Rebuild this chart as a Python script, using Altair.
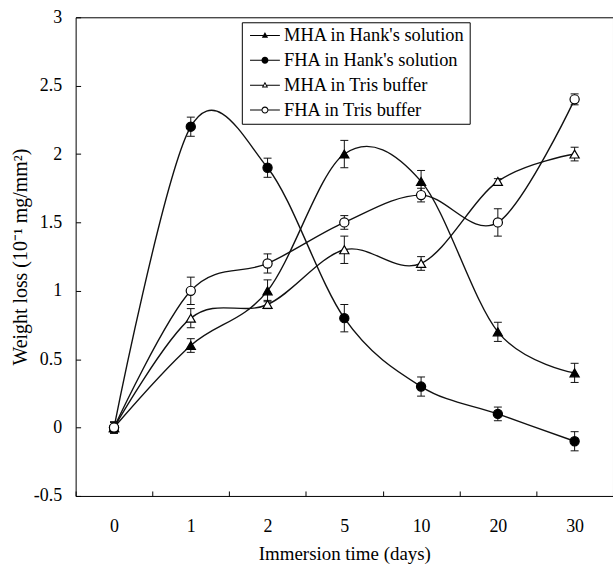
import json
import altair as alt
import pandas as pd

# Immersion times (days) shown as evenly spaced categories
days = ["0", "1", "2", "5", "10", "20", "30"]

series_names = [
    "MHA in Hank's solution",
    "FHA in Hank's solution",
    "MHA in Tris buffer",
    "FHA in Tris buffer",
]

# Weight loss (10^-1 mg/mm^2) and standard deviations
mha_hank = [0.0, 0.6, 1.0, 2.0, 1.8, 0.7, 0.4]
mha_hank_err = [0.04, 0.05, 0.08, 0.1, 0.08, 0.07, 0.07]

fha_hank = [0.0, 2.2, 1.9, 0.8, 0.3, 0.1, -0.1]
fha_hank_err = [0.04, 0.07, 0.07, 0.1, 0.07, 0.05, 0.07]

mha_tris = [0.0, 0.8, 0.9, 1.3, 1.2, 1.8, 2.0]
mha_tris_err = [0.04, 0.07, 0.03, 0.1, 0.05, 0.02, 0.05]

fha_tris = [0.0, 1.0, 1.2, 1.5, 1.7, 1.5, 2.4]
fha_tris_err = [0.04, 0.1, 0.07, 0.05, 0.05, 0.1, 0.04]

values = [mha_hank, fha_hank, mha_tris, fha_tris]
errors = [mha_hank_err, fha_hank_err, mha_tris_err, fha_tris_err]

rows = []
for name, vals, errs in zip(series_names, values, errors):
    for i, (d, v, e) in enumerate(zip(days, vals, errs)):
        rows.append({"series": name, "idx": i, "day": d, "value": v,
                     "lo": v - e, "hi": v + e})
df = pd.DataFrame(rows)

FONT = "Liberation Serif"
W, H = 540, 481
n = len(days)
half_band = W / n / 2

marker_shapes = ["triangle-up", "circle", "triangle-up", "circle"]
marker_fills = ["black", "black", "white", "white"]


def key_line(gap):
    # two thin filled bars either side of the marker
    return (f"M-2,-0.07H-{gap}V0.07H-2Z"
            f"M{gap},-0.07H2V0.07H{gap}Z")


TRI = "M0,-0.45L0.42,0.3L-0.42,0.3Z"
TRI_HOLE = "M0,-0.183L-0.197,0.17L0.197,0.17Z"
CIRC = "M0.47,0A0.47,0.47 0 1,1 -0.47,0A0.47,0.47 0 1,1 0.47,0Z"
CIRC_HOLE = "M0.33,0A0.33,0.33 0 1,0 -0.33,0A0.33,0.33 0 1,0 0.33,0Z"

# legend glyphs: short line with the marker in the middle (open ones drawn as rings)
legend_paths = [
    key_line(0.25) + TRI,
    key_line(0.45) + CIRC,
    key_line(0.25) + TRI + TRI_HOLE,
    key_line(0.45) + CIRC + CIRC_HOLE,
]

label_lookup = json.dumps(days)
x_axis = alt.Axis(
    values=[i - 0.5 for i in range(n + 1)],
    labelExpr=f"datum.value < {n - 1} ? {label_lookup}[round(datum.value + 0.5)] : ''",
    labelOffset=half_band,
    labelFlush=False,
    labelOverlap=False,
    ticks=False,
    tickSize=0,
    domain=False,
    grid=True,
    gridColor="black",
    gridOpacity=1,
    gridDash=[0, H - 5, 5, 3000],
    labelPadding=22,
    title="Immersion time (days)",
    titlePadding=9,
)
x_enc = alt.X("idx:Q", scale=alt.Scale(domain=[-0.5, n - 0.5], nice=False, zero=False),
              axis=x_axis)

y_axis = alt.Axis(
    values=[-0.5, 0, 0.5, 1, 1.5, 2, 2.5, 3],
    labelExpr="'' + datum.value",
    ticks=False,
    tickSize=0,
    domain=False,
    grid=True,
    gridColor="black",
    gridOpacity=1,
    gridDash=[5, 3000],
    labelPadding=14,
    title="Weight loss (10⁻¹ mg/mm²)",
    titleFontSize=20,
    titlePadding=3,
)
y_enc = alt.Y("value:Q", scale=alt.Scale(domain=[-0.5, 3], nice=False, zero=False),
              axis=y_axis)

base = alt.Chart(df)

lines = base.mark_line(interpolate="cardinal", color="#111111", strokeWidth=1.4).encode(
    x=x_enc, y=y_enc, detail="series:N"
)

bars = base.mark_rule(color="#111111", strokeWidth=1).encode(
    x="idx:Q", y="lo:Q", y2="hi:Q"
)
caps_lo = base.mark_tick(orient="horizontal", size=8, thickness=1, color="#111111",
                         opacity=1).encode(x="idx:Q", y="lo:Q")
caps_hi = base.mark_tick(orient="horizontal", size=8, thickness=1, color="#111111",
                         opacity=1).encode(x="idx:Q", y="hi:Q")

points = base.mark_point(filled=True, size=85, stroke="black", strokeWidth=1.2,
                         opacity=1).encode(
    x="idx:Q",
    y="value:Q",
    shape=alt.Shape("series:N", scale=alt.Scale(domain=series_names, range=marker_shapes),
                    legend=None),
    fill=alt.Fill("series:N", scale=alt.Scale(domain=series_names, range=marker_fills),
                  legend=None),
)

legend_def = alt.Legend(
    title=None,
    orient="none",
    legendX=167,
    legendY=5,
    padding=4,
    strokeColor="black",
    fillColor="white",
    symbolSize=225,
    symbolFillColor="black",
    symbolStrokeWidth=0,
    symbolOpacity=1,
    symbolOffset=10,
    labelOffset=10,
    rowPadding=6,
    labelFont=FONT,
    labelFontSize=18.5,
    labelColor="black",
    labelLimit=400,
)

# key entries only; no marks are drawn by this layer
key = base.transform_filter("datum.idx < -10").mark_point(
    filled=True, size=225, color="black", strokeWidth=0, opacity=1
).encode(
    x="idx:Q",
    y="value:Q",
    shape=alt.Shape("series:N", scale=alt.Scale(domain=series_names, range=legend_paths),
                    legend=legend_def),
)

chart = (
    alt.layer(lines, bars, caps_lo, caps_hi, points, key)
    .resolve_scale(shape="independent", fill="independent")
    .properties(
        width=W,
        height=H,
        autosize=alt.AutoSizeParams(type="none"),
        padding={"left": 76, "top": 16, "right": 0, "bottom": 67},
        background="white",
    )
    .configure_view(stroke="black", strokeWidth=1)
    .configure_axis(
        labelFont=FONT,
        labelFontSize=18,
        labelColor="black",
        titleFont=FONT,
        titleFontSize=19,
        titleFontWeight="normal",
        titleColor="black",
    )
)

chart.save("out.html", embed_options={"renderer": "svg", "actions": False})
